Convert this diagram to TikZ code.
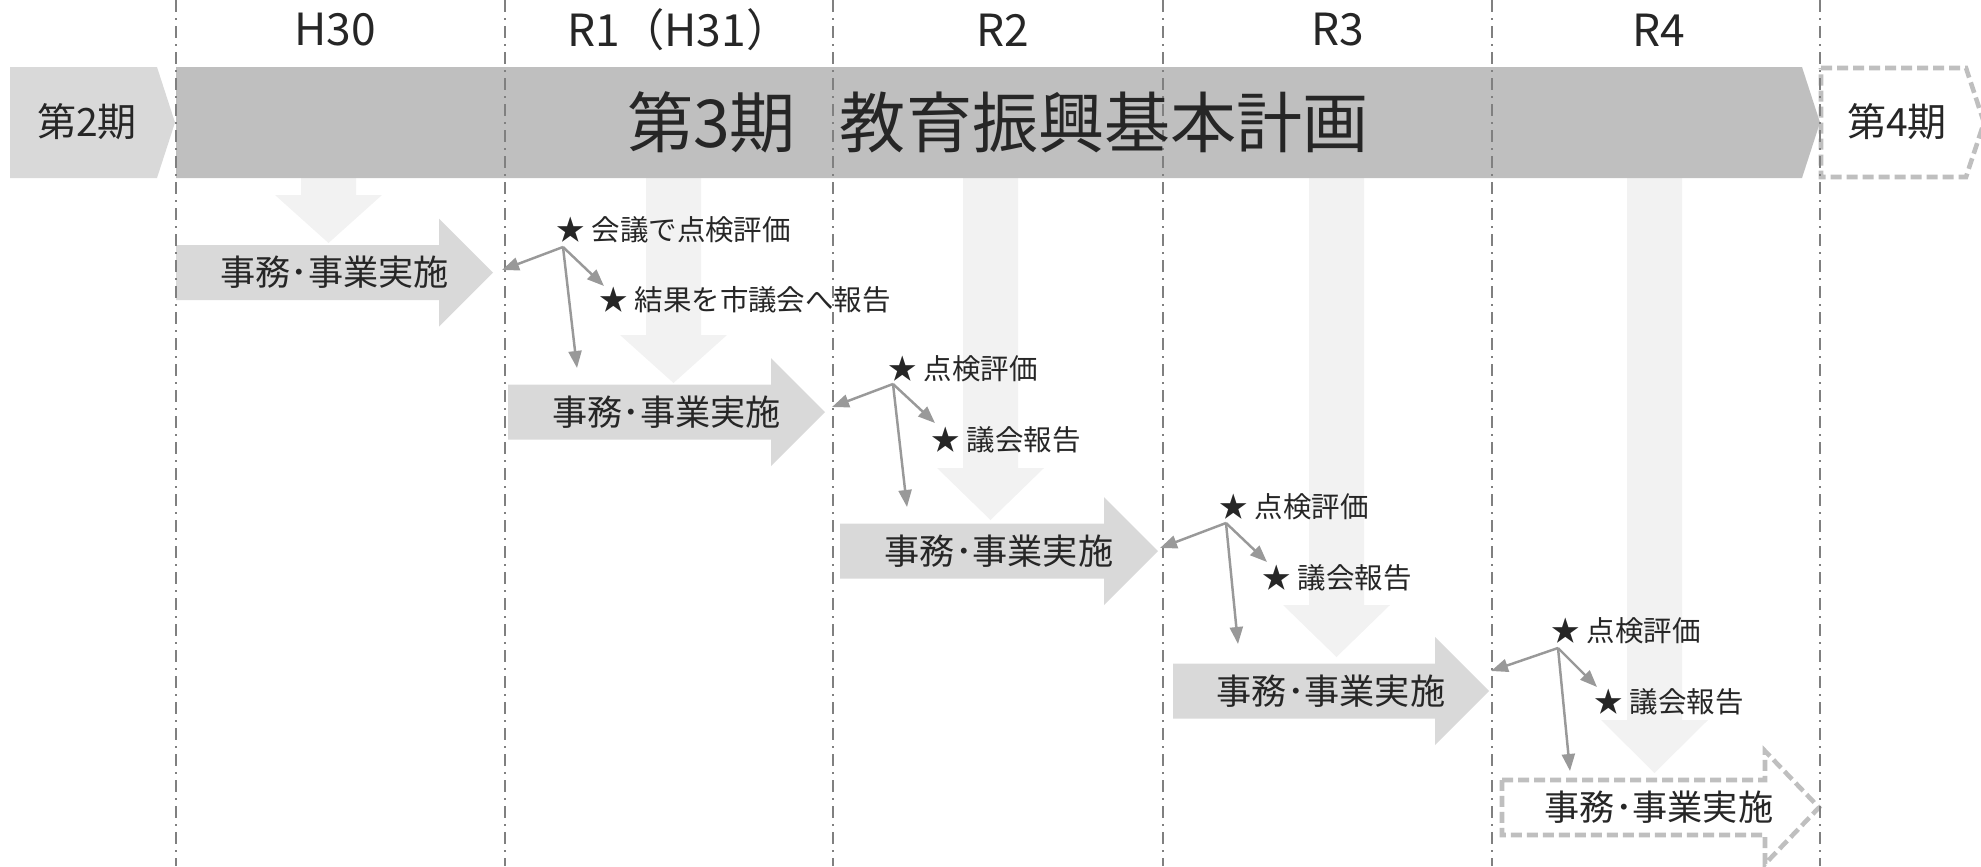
\documentclass[tikz,border=0pt]{standalone}
\usepackage{fontspec}
\setmainfont{Noto Sans CJK JP}
\usetikzlibrary{arrows.meta}
\definecolor{bandcol}{HTML}{BFBFBF}
\definecolor{prevcol}{HTML}{D9D9D9}
\definecolor{workcol}{HTML}{D9D9D9}
\definecolor{flowcol}{HTML}{F2F2F2}
\definecolor{gridcol}{HTML}{808080}
\definecolor{conncol}{HTML}{999999}
\definecolor{inkcol}{HTML}{262626}
\pgfdeclarelayer{back}
\pgfdeclarelayer{mid}
\pgfsetlayers{back,mid,main}
\tikzset{
  gridline/.style={draw=gridcol, line width=0.6pt, dash pattern=on 0.12cm off 0.06cm on 0.02cm off 0.06cm},
  flowarrow/.style={fill=flowcol, draw=none},
  workarrow/.style={fill=workcol, draw=none},
  plannedarrow/.style={draw=bandcol, line width=1.3pt, dash pattern=on 0.11cm off 0.05cm, fill=white},
  connector/.style={draw=conncol, line width=0.7pt, -{Triangle[length=0.17cm,width=0.13cm]}},
  worktext/.style={font=\fontsize{10pt}{12pt}\selectfont, text=inkcol, inner sep=0pt},
  starlabel/.style={font=\fontsize{8.1pt}{10pt}\selectfont, text=inkcol, inner sep=0pt, anchor=west},
  yearlabel/.style={font=\fontsize{12.6pt}{15pt}\selectfont, text=inkcol, inner sep=0pt},
  periodlabel/.style={font=\fontsize{11.1pt}{13pt}\selectfont, text=inkcol, inner sep=0pt},
  titlelabel/.style={font=\fontsize{18.8pt}{22pt}\selectfont, text=inkcol, inner sep=0pt},
}
% style, xleft, ycenter, xtip
\newcommand\workshape[4]{%
  \path[#1] (#2,#3-27.5) -- (#4-54,#3-27.5) -- (#4-54,#3-54) -- (#4,#3)
    -- (#4-54,#3+54) -- (#4-54,#3+27.5) -- (#2,#3+27.5) -- cycle;}
% xcenter, headtop, tip
\newcommand\flowshape[3]{%
  \path[flowarrow] (#1-27.5,178) -- (#1+27.5,178) -- (#1+27.5,#2) -- (#1+53.5,#2)
    -- (#1,#3) -- (#1-53.5,#2) -- (#1-27.5,#2) -- cycle;}
\begin{document}
\begin{tikzpicture}[x=0.01cm,y=-0.01cm]
\useasboundingbox (0,0) rectangle (1981,866);

\begin{pgfonlayer}{back}
  % downward flows
  \flowshape{328.5}{195}{243}
  \flowshape{673.5}{335}{383}
  \flowshape{990.5}{468}{520}
  \flowshape{1336.5}{605}{657}
  \flowshape{1654.5}{720}{773}
  % period band
  \path[fill=prevcol] (10,67) -- (157,67) -- (175,122.5) -- (157,178) -- (10,178) -- cycle;
  \path[fill=bandcol] (176,67) -- (1802,67) -- (1820,122.5) -- (1802,178) -- (176,178) -- cycle;
  \path[plannedarrow] (1821,68) -- (1966,68) -- (1984,122.5) -- (1966,177) -- (1821,177) -- cycle;
  % work arrows
  \workshape{workarrow}{176}{272.5}{493}
  \workshape{workarrow}{508}{412}{825}
  \workshape{workarrow}{840}{551}{1158}
  \workshape{workarrow}{1173}{691}{1489}
  \path[plannedarrow] (1502,780) -- (1765,780) -- (1765,751) -- (1819,807.5)
    -- (1765,864) -- (1765,835) -- (1502,835) -- cycle;
\end{pgfonlayer}

\begin{pgfonlayer}{mid}
  \foreach \x in {176,505,833,1163,1492,1820}
    \draw[gridline] (\x,0) -- (\x,866);
\end{pgfonlayer}

% year labels
\node[yearlabel] (y0) at (335,30) {H30};
\node[yearlabel] (y1) at (679,30) {R1（H31）};
\node[yearlabel] (y2) at (1003,30) {R2};
\node[yearlabel] (y3) at (1338,30) {R3};
\node[yearlabel] (y4) at (1659,30) {R4};

% periods
\node[periodlabel] (p2) at (87,122) {第2期};
\node[titlelabel] (p3) at (998,122) {第3期\hspace{0.44cm}教育振興基本計画};
\node[periodlabel] (p4) at (1897,122) {第4期};

% work texts
\node[worktext] (w0) at (334.5,272.5) {事務･事業実施};
\node[worktext] (w1) at (666.5,412) {事務･事業実施};
\node[worktext] (w2) at (999,551) {事務･事業実施};
\node[worktext] (w3) at (1331,691) {事務･事業実施};
\node[worktext] (w4) at (1659,807.5) {事務･事業実施};

% stage 1
\node[starlabel] (s1a) at (556,230) {★ 会議で点検評価};
\node[starlabel] (s1b) at (599,300) {★ 結果を市議会へ報告};
\coordinate (b1) at (563,247);
\coordinate (l1) at (502,270);
\coordinate (r1) at (604,286);
\coordinate (d1) at (577,368);
\draw[connector] (b1) -- (l1);
\draw[connector] (b1) -- (r1);
\draw[connector] (b1) -- (d1);

% stage 2
\node[starlabel] (s2a) at (888,369) {★ 点検評価};
\node[starlabel] (s2b) at (931,440) {★ 議会報告};
\coordinate (b2) at (893,384);
\coordinate (l2) at (832,407);
\coordinate (r2) at (935,423);
\coordinate (d2) at (907,507);
\draw[connector] (b2) -- (l2);
\draw[connector] (b2) -- (r2);
\draw[connector] (b2) -- (d2);

% stage 3
\node[starlabel] (s3a) at (1219,507) {★ 点検評価};
\node[starlabel] (s3b) at (1262,578) {★ 議会報告};
\coordinate (b3) at (1226,523);
\coordinate (l3) at (1160,548);
\coordinate (r3) at (1267,562);
\coordinate (d3) at (1238,644);
\draw[connector] (b3) -- (l3);
\draw[connector] (b3) -- (r3);
\draw[connector] (b3) -- (d3);

% stage 4
\node[starlabel] (s4a) at (1551,631) {★ 点検評価};
\node[starlabel] (s4b) at (1594,702) {★ 議会報告};
\coordinate (b4) at (1558,648);
\coordinate (l4) at (1491,671);
\coordinate (r4) at (1597,687);
\coordinate (d4) at (1570,771);
\draw[connector] (b4) -- (l4);
\draw[connector] (b4) -- (r4);
\draw[connector] (b4) -- (d4);
\end{tikzpicture}
\end{document}
